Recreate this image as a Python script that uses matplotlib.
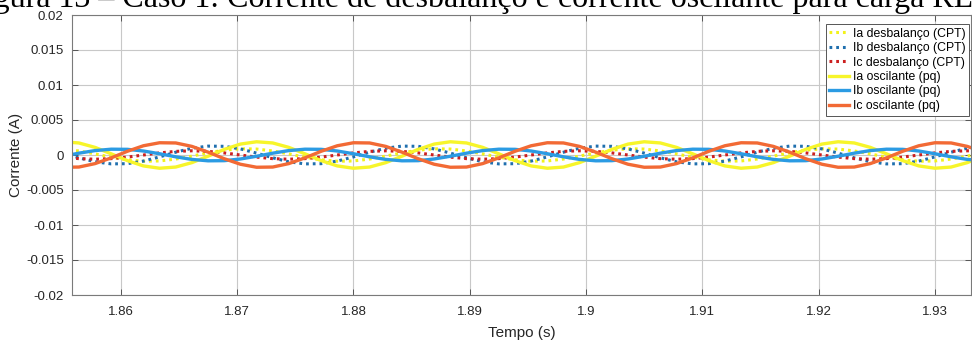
import matplotlib
matplotlib.use("Agg")
import matplotlib.pyplot as plt

# tempo (s), amostras a cada 1/720 s (30 graus em 60 Hz)
tempo = [1.85500, 1.85639, 1.85778, 1.85917, 1.86056, 1.86194, 1.86333, 1.86472, 1.86611, 1.86750, 1.86889, 1.87028,
         1.87167, 1.87306, 1.87444, 1.87583, 1.87722, 1.87861, 1.88000, 1.88139, 1.88278, 1.88417, 1.88556, 1.88694,
         1.88833, 1.88972, 1.89111, 1.89250, 1.89389, 1.89528, 1.89667, 1.89806, 1.89944, 1.90083, 1.90222, 1.90361,
         1.90500, 1.90639, 1.90778, 1.90917, 1.91056, 1.91194, 1.91333, 1.91472, 1.91611, 1.91750, 1.91889, 1.92028,
         1.92167, 1.92306, 1.92444, 1.92583, 1.92722, 1.92861, 1.93000, 1.93139, 1.93278, 1.93417]

# correntes de desbalanço (CPT)
ia_desb = [0.00085, 0.00058, 0.00016, -0.00031, -0.00069, -0.00089, -0.00085, -0.00058, -0.00016, 0.00031, 0.00069, 0.00089,
           0.00085, 0.00058, 0.00016, -0.00031, -0.00069, -0.00089, -0.00085, -0.00058, -0.00016, 0.00031, 0.00069, 0.00089,
           0.00085, 0.00058, 0.00016, -0.00031, -0.00069, -0.00089, -0.00085, -0.00058, -0.00016, 0.00031, 0.00069, 0.00089,
           0.00085, 0.00058, 0.00016, -0.00031, -0.00069, -0.00089, -0.00085, -0.00058, -0.00016, 0.00031, 0.00069, 0.00089,
           0.00085, 0.00058, 0.00016, -0.00031, -0.00069, -0.00089, -0.00085, -0.00058, -0.00016, 0.00031]
ib_desb = [0.00027, -0.00040, -0.00097, -0.00127, -0.00124, -0.00087, -0.00027, 0.00040, 0.00097, 0.00127, 0.00124, 0.00087,
           0.00027, -0.00040, -0.00097, -0.00127, -0.00124, -0.00087, -0.00027, 0.00040, 0.00097, 0.00127, 0.00124, 0.00087,
           0.00027, -0.00040, -0.00097, -0.00127, -0.00124, -0.00087, -0.00027, 0.00040, 0.00097, 0.00127, 0.00124, 0.00087,
           0.00027, -0.00040, -0.00097, -0.00127, -0.00124, -0.00087, -0.00027, 0.00040, 0.00097, 0.00127, 0.00124, 0.00087,
           0.00027, -0.00040, -0.00097, -0.00127, -0.00124, -0.00087, -0.00027, 0.00040, 0.00097, 0.00127]
ic_desb = [-0.00030, -0.00052, -0.00060, -0.00052, -0.00030, 0.00000, 0.00030, 0.00052, 0.00060, 0.00052, 0.00030, 0.00000,
           -0.00030, -0.00052, -0.00060, -0.00052, -0.00030, 0.00000, 0.00030, 0.00052, 0.00060, 0.00052, 0.00030, 0.00000,
           -0.00030, -0.00052, -0.00060, -0.00052, -0.00030, 0.00000, 0.00030, 0.00052, 0.00060, 0.00052, 0.00030, 0.00000,
           -0.00030, -0.00052, -0.00060, -0.00052, -0.00030, 0.00000, 0.00030, 0.00052, 0.00060, 0.00052, 0.00030, 0.00000,
           -0.00030, -0.00052, -0.00060, -0.00052, -0.00030, 0.00000, 0.00030, 0.00052, 0.00060, 0.00052]

# correntes oscilantes (pq)
ia_osc = [0.00189, 0.00172, 0.00109, 0.00017, -0.00080, -0.00156, -0.00189, -0.00172, -0.00109, -0.00017, 0.00080, 0.00156,
          0.00189, 0.00172, 0.00109, 0.00017, -0.00080, -0.00156, -0.00189, -0.00172, -0.00109, -0.00017, 0.00080, 0.00156,
          0.00189, 0.00172, 0.00109, 0.00017, -0.00080, -0.00156, -0.00189, -0.00172, -0.00109, -0.00017, 0.00080, 0.00156,
          0.00189, 0.00172, 0.00109, 0.00017, -0.00080, -0.00156, -0.00189, -0.00172, -0.00109, -0.00017, 0.00080, 0.00156,
          0.00189, 0.00172, 0.00109, 0.00017, -0.00080, -0.00156, -0.00189, -0.00172, -0.00109, -0.00017]
ib_osc = [-0.00018, 0.00026, 0.00063, 0.00083, 0.00081, 0.00057, 0.00018, -0.00026, -0.00063, -0.00083, -0.00081, -0.00057,
          -0.00018, 0.00026, 0.00063, 0.00083, 0.00081, 0.00057, 0.00018, -0.00026, -0.00063, -0.00083, -0.00081, -0.00057,
          -0.00018, 0.00026, 0.00063, 0.00083, 0.00081, 0.00057, 0.00018, -0.00026, -0.00063, -0.00083, -0.00081, -0.00057,
          -0.00018, 0.00026, 0.00063, 0.00083, 0.00081, 0.00057, 0.00018, -0.00026, -0.00063, -0.00083, -0.00081, -0.00057,
          -0.00018, 0.00026, 0.00063, 0.00083, 0.00081, 0.00057, 0.00018, -0.00026, -0.00063, -0.00083]
ic_osc = [-0.00175, -0.00172, -0.00123, -0.00041, 0.00053, 0.00132, 0.00175, 0.00172, 0.00123, 0.00041, -0.00053, -0.00132,
          -0.00175, -0.00172, -0.00123, -0.00041, 0.00053, 0.00132, 0.00175, 0.00172, 0.00123, 0.00041, -0.00053, -0.00132,
          -0.00175, -0.00172, -0.00123, -0.00041, 0.00053, 0.00132, 0.00175, 0.00172, 0.00123, 0.00041, -0.00053, -0.00132,
          -0.00175, -0.00172, -0.00123, -0.00041, 0.00053, 0.00132, 0.00175, 0.00172, 0.00123, 0.00041, -0.00053, -0.00132,
          -0.00175, -0.00172, -0.00123, -0.00041, 0.00053, 0.00132, 0.00175, 0.00172, 0.00123, 0.00041]

nomes = ['Ia desbalanço (CPT)', 'Ib desbalanço (CPT)', 'Ic desbalanço (CPT)',
         'Ia oscilante (pq)', 'Ib oscilante (pq)', 'Ic oscilante (pq)']

x_ticks = [1.86, 1.87, 1.88, 1.89, 1.90, 1.91, 1.92, 1.93]
x_labels = ['1.86', '1.87', '1.88', '1.89', '1.9', '1.91', '1.92', '1.93']
y_ticks = [-0.02, -0.015, -0.01, -0.005, 0, 0.005, 0.01, 0.015, 0.02]
y_labels = ['-0.02', '-0.015', '-0.01', '-0.005', '0', '0.005', '0.01', '0.015', '0.02']

titulo = 'Figura 13 – Caso 1: Corrente de desbalanço e corrente oscilante para carga RL'

plt.rcParams['font.family'] = ['Liberation Sans', 'DejaVu Sans']

fig = plt.figure(figsize=(9.72, 3.45), dpi=100)
ax = fig.add_axes([72 / 972, 50 / 345, 899 / 972, 280 / 345])

# legenda do documento, cortada no topo
fig.text(-33 / 972, 1 - 7 / 345, titulo, family='Liberation Serif', fontsize=23,
         va='baseline', ha='left', color='black')

series = [ia_desb, ib_desb, ic_desb, ia_osc, ib_osc, ic_osc]
cores = ['#f2f21a', '#1f6fae', '#cc1f1f', '#f7f52a', '#2b9be3', '#f26a35']
estilos = [':', ':', ':', '-', '-', '-']

for valores, nome, cor, ls in zip(series, nomes, cores, estilos):
    if ls == ':':
        ax.plot(tempo, valores, color=cor, lw=2.2, dashes=(0.9, 1.3), label=nome)
    else:
        ax.plot(tempo, valores, ls, color=cor, lw=2.4, label=nome)

ax.set_xlim(1.8558, 1.9331)
ax.set_ylim(-0.02, 0.02)
ax.set_xticks(x_ticks)
ax.set_xticklabels(x_labels)
ax.set_yticks(y_ticks)
ax.set_yticklabels(y_labels)
ax.grid(True, color='#c8c8c8', lw=0.8)
ax.tick_params(direction='in', top=True, right=True, length=4, width=0.7,
               colors='#555555', labelcolor='#262626', labelsize=9.5)
ax.tick_params(axis='x', pad=8)
ax.tick_params(axis='y', pad=6)
for s in ax.spines.values():
    s.set_color('#7a7a7a')
    s.set_linewidth(0.8)

ax.set_xlabel('Tempo (s)', fontsize=11, color='#262626', labelpad=6)
ax.set_ylabel('Corrente (A)', fontsize=11, color='#262626', labelpad=2)

leg = ax.legend(loc='upper right', bbox_to_anchor=(0.9978, 0.968), fontsize=8.85,
                handlelength=1.6, handletextpad=0.3, labelspacing=0.2,
                borderpad=0.3, borderaxespad=0, fancybox=False, framealpha=1)
leg.get_frame().set_edgecolor('#555555')
leg.get_frame().set_linewidth(0.7)

fig.savefig('out.png', dpi=100)
